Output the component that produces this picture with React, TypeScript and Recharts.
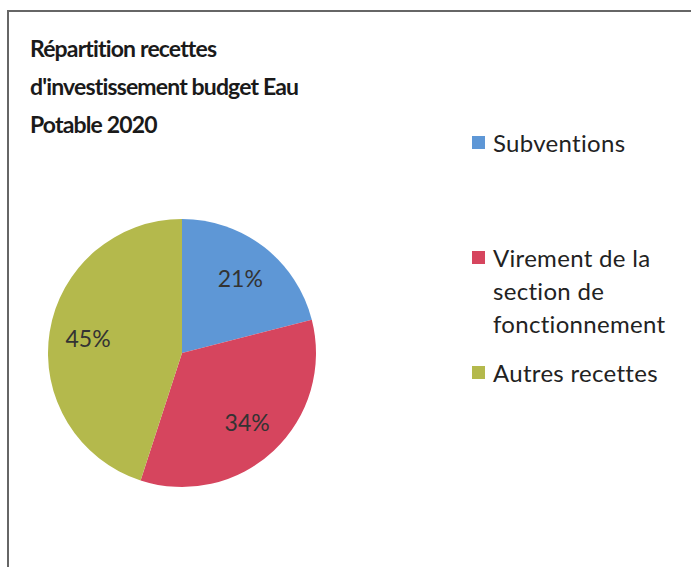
import React from 'react';
import { PieChart, Pie, Cell, Legend } from 'recharts';

const categories = ['Subventions', 'Virement de la section de fonctionnement', 'Autres recettes'];
const values = [21, 34, 45];
const legendLines = [['Subventions'], ['Virement de la', 'section de', 'fonctionnement'], ['Autres recettes']];
const colors = ['#5E97D6', '#D6455E', '#B4B94C'];
const titleLines = ['Répartition recettes', "d'investissement budget Eau", 'Potable 2020'];

const data = categories.map((name, i) => ({ name, value: values[i] }));

const FONT = 'Lato, "Open Sans", sans-serif';
const RAD = Math.PI / 180;

const renderLabel = (props: any) => {
  const { cx, cy, midAngle, outerRadius, percent } = props;
  const r = outerRadius * 0.71;
  const x = cx + r * Math.cos(-midAngle * RAD);
  const y = cy + r * Math.sin(-midAngle * RAD);
  return (
    <text x={x} y={y} fill="#333" fontSize={23} fontFamily={FONT} textAnchor="middle" dominantBaseline="central">
      {`${Math.round(percent * 100)}%`}
    </text>
  );
};

const itemGaps = [0, 82, 16];

const renderLegend = () => (
  <div style={{ fontFamily: FONT, fontSize: 24, color: '#222', lineHeight: '33px', letterSpacing: 0.3 }}>
    {legendLines.map((lines, i) => (
      <div key={i} style={{ display: 'flex', marginTop: itemGaps[i] }}>
        <div style={{ width: 13, height: 13, background: colors[i], marginTop: 10, marginRight: 8, flexShrink: 0 }} />
        <div>
          {lines.map((l, j) => (
            <div key={j} style={{ whiteSpace: 'nowrap' }}>{l}</div>
          ))}
        </div>
      </div>
    ))}
  </div>
);

export default function App() {
  return (
    <div style={{ position: 'absolute', left: 0, top: 0, width: 691, height: 567, background: '#fff' }}>
      <div
        style={{
          position: 'absolute',
          left: 7,
          top: 10,
          right: 0,
          bottom: 0,
          borderLeft: '2px solid #666',
          borderTop: '2px solid #666',
        }}
      />
      <div
        style={{
          position: 'absolute',
          left: 30,
          top: 29,
          fontFamily: FONT,
          fontWeight: 700,
          fontSize: 23,
          letterSpacing: -0.85,
          fontVariantLigatures: 'none',
          lineHeight: '38px',
          color: '#1a1a1a',
        }}
      >
        {titleLines.map((t, i) => (
          <div key={i}>{t}</div>
        ))}
      </div>
      <PieChart width={691} height={567} margin={{ top: 0, right: 0, bottom: 0, left: 0 }} style={{ position: 'absolute', left: 0, top: 0 }}>
        <Pie
          data={data}
          dataKey="value"
          nameKey="name"
          cx={182}
          cy={353}
          outerRadius={134}
          startAngle={90}
          endAngle={-270}
          stroke="none"
          label={renderLabel}
          labelLine={false}
          isAnimationActive={false}
        >
          {data.map((d, i) => (
            <Cell key={d.name} fill={colors[i]} />
          ))}
        </Pie>
        <Legend
          content={renderLegend}
          layout="vertical"
          align="right"
          verticalAlign="top"
          wrapperStyle={{ position: 'absolute', left: 472, top: 126, width: 215 }}
        />
      </PieChart>
    </div>
  );
}
